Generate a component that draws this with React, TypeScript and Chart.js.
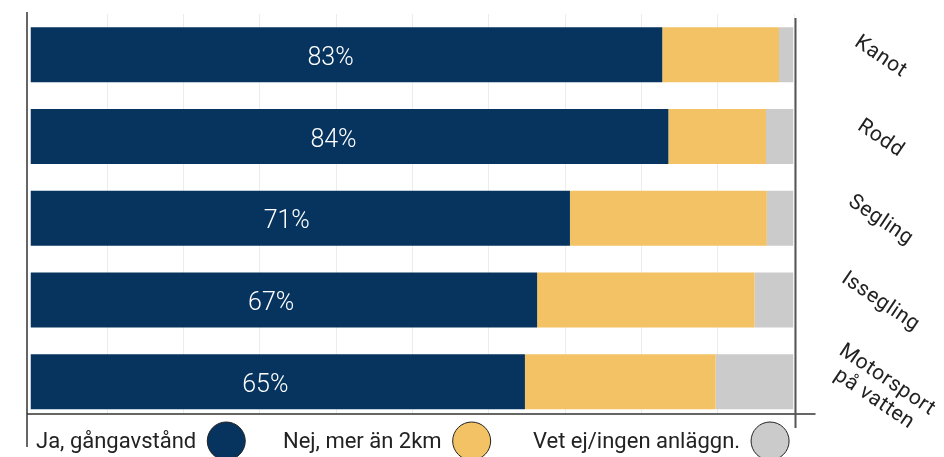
import React, { useEffect, useRef } from "react";
import { Chart, registerables } from "chart.js";

Chart.register(...registerables);

const categories: (string | string[])[] = ["Kanot", "Rodd", "Segling", "Issegling", ["Motorsport", "på vatten"]];
const jaValues = [82.8, 83.6, 70.7, 66.4, 64.8];
const nejValues = [15.3, 12.8, 25.8, 28.5, 25.0];
const vetValues = [1.9, 3.6, 3.5, 5.1, 10.2];
const barLabels = ["83%", "84%", "71%", "67%", "65%"];
const seriesNames = ["Ja, gångavstånd", "Nej, mer än 2km", "Vet ej/ingen anläggn."];
const xTicks = [10, 20, 30, 40, 50, 60, 70, 80, 90, 100];

const NAVY = "#06345f";
const YELLOW = "#f3c265";
const GREY = "#cbcbcb";
const INK = "#222222";

const overlay = {
  id: "overlay",
  beforeDatasetsDraw(chart: any) {
    const { ctx, chartArea } = chart;
    const xs = chart.scales.x;
    const bottomLine = chartArea.bottom - 8.5;
    ctx.save();
    ctx.strokeStyle = "#ececec";
    ctx.lineWidth = 1;
    xTicks.forEach((t) => {
      const x = Math.round(xs.getPixelForValue(t)) + 0.5;
      ctx.beginPath();
      ctx.moveTo(x, chartArea.top);
      ctx.lineTo(x, bottomLine);
      ctx.stroke();
    });
    ctx.restore();
  },
  afterDatasetsDraw(chart: any) {
    const { ctx, chartArea } = chart;
    const ys = chart.scales.y;
    const bottomLine = chartArea.bottom - 8.5;
    ctx.save();

    // in-bar labels
    ctx.fillStyle = "#ffffff";
    ctx.font = "300 25px Roboto";
    ctx.textAlign = "center";
    ctx.textBaseline = "alphabetic";
    const meta = chart.getDatasetMeta(0);
    meta.data.forEach((bar: any, i: number) => {
      const x = chartArea.left + (bar.x - chartArea.left) * 0.475;
      ctx.fillText(barLabels[i], x, bar.y + 10);
    });

    // axis lines
    ctx.strokeStyle = "#333333";
    ctx.lineWidth = 1.5;
    ctx.beginPath();
    ctx.moveTo(chartArea.left - 3.5, chartArea.top - 2);
    ctx.lineTo(chartArea.left - 3.5, chart.height - 10);
    ctx.stroke();
    ctx.beginPath();
    ctx.moveTo(chartArea.left - 3.5, bottomLine);
    ctx.lineTo(chartArea.right + 22, bottomLine);
    ctx.stroke();
    ctx.strokeStyle = "#555555";
    ctx.lineWidth = 2;
    ctx.beginPath();
    ctx.moveTo(chartArea.right + 2, chartArea.top + 4);
    ctx.lineTo(chartArea.right + 2, bottomLine + 14);
    ctx.stroke();

    // category labels (rotated)
    ctx.fillStyle = INK;
    ctx.font = "21px Roboto";
    (ctx as any).letterSpacing = "0.6px";
    ctx.textAlign = "center";
    ctx.textBaseline = "middle";
    categories.forEach((c, i) => {
      const lines = Array.isArray(c) ? c : [c];
      const y = ys.getPixelForValue(i) + 2 + (lines.length - 1) * 6;
      const x = chartArea.right + 87;
      ctx.save();
      ctx.translate(x, y);
      ctx.rotate((34 * Math.PI) / 180);
      const lh = 23;
      lines.forEach((ln, j) => {
        ctx.fillText(ln, 0, (j - (lines.length - 1) / 2) * lh);
      });
      ctx.restore();
    });
    (ctx as any).letterSpacing = "0px";

    // legend
    const colors = [NAVY, YELLOW, GREY];
    const starts = [36, 283, 533];
    ctx.font = "22px Roboto";
    ctx.textAlign = "left";
    ctx.textBaseline = "alphabetic";
    seriesNames.forEach((name, i) => {
      ctx.fillStyle = INK;
      ctx.fillText(name, starts[i], 448);
      const w = ctx.measureText(name).width;
      const cx = starts[i] + w + 11 + 19;
      ctx.beginPath();
      ctx.arc(cx, 441, 19, 0, Math.PI * 2);
      ctx.fillStyle = colors[i];
      ctx.fill();
      ctx.strokeStyle = INK;
      ctx.lineWidth = 1;
      ctx.stroke();
    });

    ctx.restore();
  },
};

export default function App() {
  const ref = useRef<HTMLCanvasElement>(null);
  useEffect(() => {
    if (!ref.current) return;
    const chart = new Chart(ref.current, {
      type: "bar",
      data: {
        labels: categories as any,
        datasets: [
          { label: seriesNames[0], data: jaValues, backgroundColor: NAVY },
          { label: seriesNames[1], data: nejValues, backgroundColor: YELLOW },
          { label: seriesNames[2], data: vetValues, backgroundColor: GREY },
        ],
      },
      options: {
        indexAxis: "y",
        animation: false,
        responsive: false,
        devicePixelRatio: 1,
        layout: { padding: { left: 30.5, right: 150.5, top: 14, bottom: 34.5 } },
        datasets: { bar: { barPercentage: 0.673, categoryPercentage: 1, borderWidth: 0 } },
        scales: {
          x: {
            stacked: true,
            min: 0,
            max: 100,
            display: false,
            grid: { display: false },
          },
          y: {
            stacked: true,
            display: false,
            grid: { display: false },
          },
        },
        plugins: {
          legend: { display: false },
          tooltip: { enabled: false },
        },
      },
      plugins: [overlay],
    });
    return () => chart.destroy();
  }, []);
  return (
    <div style={{ position: "absolute", left: 0, top: 0, width: 944, height: 457, background: "#fff" }}>
      <canvas ref={ref} width={944} height={457} />
    </div>
  );
}
